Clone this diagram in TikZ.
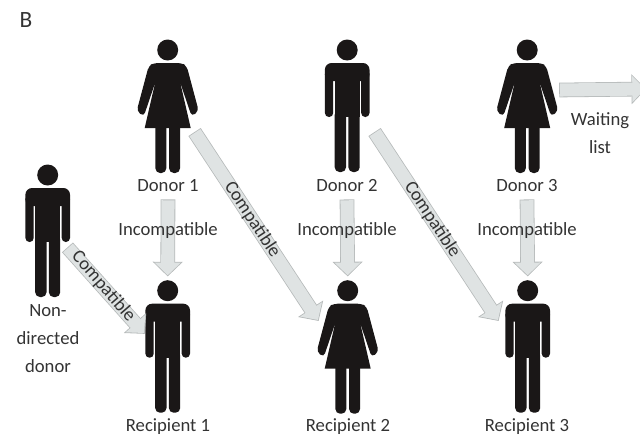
\documentclass[tikz,border=0pt]{standalone}
\usepackage{fontspec}
\setmainfont{Carlito}
\usetikzlibrary{arrows.meta}

\definecolor{bodyink}{HTML}{1A1717}
\definecolor{arrowfill}{HTML}{DFE3E3}
\definecolor{arrowedge}{HTML}{B6BABA}
\definecolor{labelink}{HTML}{333333}

\tikzset{
  personfill/.style={fill=bodyink},
  headdot/.style={circle,fill=bodyink,minimum size=15.75pt,inner sep=0pt,outer sep=3.7pt},
  namelabel/.style={text=labelink,font=\fontsize{14}{21}\selectfont,align=center,inner xsep=1pt,inner ysep=5.5pt,text height=10.5pt,text depth=1pt},
  slantlabel/.style={namelabel,text height=9pt,text depth=2.5pt},
  multilabel/.style={text=labelink,font=\fontsize{14}{21}\selectfont,align=center,inner sep=1pt},
  blockarrow/.style={
    preaction={draw=arrowedge,line width=11pt,shorten <=-.6pt,shorten >=-.85pt,
      -{Triangle[length=10.95pt,width=21.9pt]}},
    draw=arrowfill,line width=9.8pt,-{Triangle[length=9.5pt,width=19pt]}},
  pics/man/.style={code={
    \node[headdot] (-head) at (0,0) {};
    \fill[personfill,rounded corners=5pt] (-22.3,13) rectangle (22.3,31);
    \fill[personfill,rounded corners=3pt] (14,20) rectangle (22.3,67);
    \fill[personfill,rounded corners=3pt] (-22.3,20) rectangle (-14,67);
    \fill[personfill] (-12.5,20) rectangle (12.5,67);
    \fill[personfill,rounded corners=3.5pt] (1.2,60) rectangle (12.5,122);
    \fill[personfill,rounded corners=3.5pt] (-12.5,60) rectangle (-1.2,122);
  }},
  pics/woman/.style={code={
    \node[headdot] (-head) at (0,0) {};
    \fill[personfill,rounded corners=3pt] (-14,13) -- (14,13) -- (19,16) -- (31,61) -- (24,66.5)
      -- (12.3,32) -- (-12.3,32) -- (-24,66.5) -- (-31,61) -- (-19,16) -- cycle;
    \fill[personfill] (-10.8,25) -- (10.8,25) -- (23,78) -- (-23,78) -- cycle;
    \fill[personfill,rounded corners=3.5pt] (1.4,70) rectangle (12.3,123);
    \fill[personfill,rounded corners=3.5pt] (-12.3,70) rectangle (-1.4,123);
  }},
}

\begin{document}
\begin{tikzpicture}[x=.75pt,y=-.75pt]
  \useasboundingbox (0,0) rectangle (640,436);

  % people
  \pic (nondir) at (47.7,175) {man};
  \pic (donor1) at (167.7,50) {woman};
  \pic (donor2) at (347.2,50) {man};
  \pic (donor3) at (527.2,50) {woman};
  \pic (recip1) at (167.7,290.7) {man};
  \pic (recip2) at (347.7,290.7) {woman};
  \pic (recip3) at (527.7,290.7) {man};

  % names
  \node[namelabel] at (26,21) (panel) {\fontsize{17.5}{18}\selectfont B};
  \node[namelabel] (name1) at (168,185) {Donor 1};
  \node[namelabel] (name2) at (347,185) {Donor 2};
  \node[namelabel] (name3) at (527,185) {Donor 3};
  \node[namelabel] (namer1) at (168,425) {Recipient 1};
  \node[namelabel] (namer2) at (348,425) {Recipient 2};
  \node[namelabel] (namer3) at (527,425) {Recipient 3};
  \node[multilabel] (namend) at (48,339) {Non-\\directed\\donor};

  % free ends of the slanted arrows
  \coordinate (ndout) at (68,248);
  \coordinate (r1in) at (144,333);
  \coordinate (d1out) at (195,132.7);
  \coordinate (r2in) at (318,320);
  \coordinate (d2out) at (375,132.7);
  \coordinate (r3in) at (498,320);
  \coordinate (d3out) at (560,90);
  \coordinate (waitend) at (645,89);

  \draw[blockarrow] (name1.south) -- (recip1-head.north);
  \draw[blockarrow] (name2.south) -- (recip2-head.north);
  \draw[blockarrow] (name3.south) -- (recip3-head.north);
  \draw[blockarrow] (ndout) -- (r1in);
  \draw[blockarrow] (d1out) -- (r2in);
  \draw[blockarrow] (d2out) -- (r3in);
  \draw[blockarrow] (d3out) -- (waitend);

  % arrow labels
  \node[namelabel] (inc1) at (168,229) {Incompatible};
  \node[namelabel] (inc2) at (347,229) {Incompatible};
  \node[namelabel] (inc3) at (527,229) {Incompatible};
  \node[slantlabel,rotate=-49] (com0) at (103,287) {Compatible};
  \node[slantlabel,rotate=-56.5] (com1) at (251.7,220) {Compatible};
  \node[slantlabel,rotate=-56.5] (com2) at (431.7,220) {Compatible};
  \node[multilabel] (wait) at (600,133) {Waiting\\list};
\end{tikzpicture}
\end{document}
